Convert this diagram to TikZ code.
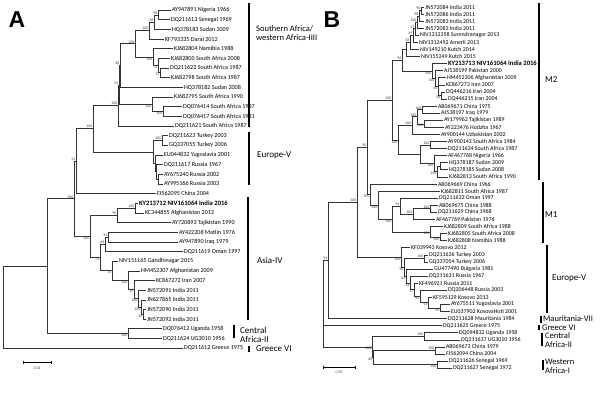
\documentclass[tikz,border=0pt]{standalone}
\usepackage{fontspec}
\setmainfont{Carlito}
\newfontfamily\headfont{Liberation Sans}
\usetikzlibrary{positioning}

\tikzset{
  branch/.style={draw=black!80, line width=0.6pt},
  taxA/.style={anchor=west, inner sep=0.8pt, font=\fontsize{6.1}{7}\selectfont},
  taxB/.style={anchor=west, inner sep=0.8pt, font=\fontsize{5.9}{6.5}\selectfont},
  bs/.style={font=\fontsize{3.9}{4}\selectfont, inner sep=0.4pt, text=black!75},
  bu/.style={label={[bs]above left:#1}},
  bd/.style={label={[bs]below left:#1}},
  grp/.style={line width=1.4pt},
  grplab/.style={anchor=west, inner sep=0pt, align=left, font=\fontsize{9}{9.5}\selectfont},
  grpsmall/.style={grplab, font=\fontsize{8.5}{9}\selectfont},
  panel/.style={font=\headfont\bfseries\fontsize{23}{23}\selectfont},
}
% leaf: style, name, position, parent, text
\newcommand{\leaf}[5]{\node[#1] (#2) at (#3) {#5}; \draw[branch] (#4) |- (#2.west);}
\newcommand{\newseq}[1]{\textbf{\fontsize{6.6}{7}\selectfont #1}}

\begin{document}
\begin{tikzpicture}[x=1pt, y=-1pt]
  \useasboundingbox (0,0) rectangle (600,393);

  \node[panel] (labA) at (17,20) {A};
  \node[panel] (labB) at (332,20) {B};

  % ---------------- Panel A: internal nodes
  \coordinate (rootA) at (3,307);
  \coordinate (nR) at (47,266.2);
  \coordinate[bu=100] (nP) at (74,198.7);
  \coordinate[bu=54] (nQ) at (76,161.1);
  \coordinate[bu=100] (nS) at (93,128.6);
  \coordinate[bu=100] (nT) at (118,105.4);
  \coordinate[bu=54] (nA54) at (119,84.9);
  \coordinate[bu=48] (nA48) at (120,65.5);
  \coordinate[bu=100] (nU) at (135,43.8);
  \coordinate[bu=100] (nA3) at (149,30.5);
  \coordinate[bu=58] (nA58) at (154,22.1);
  \coordinate[bu=98] (nA98) at (158,14.9);
  \coordinate[bd=100] (nA5) at (153,57.1);
  \coordinate[bd=72] (nA6) at (158,65.5);
  \coordinate[bd=75] (nA7) at (160,72.8);
  \coordinate[bd=100] (nA10) at (152,104.2);
  \coordinate[bd=100] (nA11) at (163,111.4);
  \coordinate (nE) at (153,151.9);
  \coordinate[bu=100] (nEt) at (162,140.4);
  \coordinate (nE2) at (155,163.4);
  \coordinate (nE3) at (156,171.8);
  \coordinate (nE4) at (158,179);
  \coordinate[bd=100] (nAs) at (90,236.4);
  \coordinate[bu=90] (n90) at (117,215.3);
  \coordinate[bu=100] (pA1) at (135,208);
  \coordinate[bd=72] (nY) at (100,257.4);
  \coordinate[bu=66] (n66) at (105,244.2);
  \coordinate[bu=94] (n94) at (108,237);
  \coordinate[bd=76] (n76) at (112,270.6);
  \coordinate[bd=100] (pl) at (128,280.2);
  \coordinate[bd=35] (pk) at (134,289.5);
  \coordinate[bd=100] (pj1) at (138,298.6);
  \coordinate[bd=100] (pj2) at (141,307);
  \coordinate[bd=46] (pj3) at (143,314.3);
  \coordinate[bd=100] (nCA) at (128,333.6);

  \foreach \c/\p in {nR/rootA, nP/nR, nCA/nR, nQ/nP, nAs/nP, nS/nQ, nT/nS, nE/nS,
      nA54/nT, nA48/nA54, nA10/nA54, nU/nA48, nA3/nU, nA5/nU, nA58/nA3, nA98/nA58,
      nA6/nA5, nA7/nA6, nA11/nA10, nEt/nE, nE2/nE, nE3/nE2, nE4/nE3,
      n90/nAs, nY/nAs, pA1/n90, n66/nY, n76/nY, n94/n66, pl/n76, pk/pl, pj1/pk,
      pj2/pj1, pj3/pj2}
    \draw[branch] (\p) |- (\c);

  % ---------------- Panel A: taxa
  \leaf{taxA}{a1}{171,10.0}{nA98}{AY947891 Nigeria 1966}
  \leaf{taxA}{a2}{170,19.7}{nA98}{DQ211613 Senegal 1969}
  \leaf{taxA}{a3}{171,29.3}{nA58}{HQ378183 Sudan 2009}
  \leaf{taxA}{a4}{164,39.0}{nA3}{KF793335 Daral 2012}
  \leaf{taxA}{a5}{173,48.6}{nA5}{KJ682804 Namibia 1988}
  \leaf{taxA}{a6}{170,58.3}{nA6}{KJ682800 South Africa 2008}
  \leaf{taxA}{a7}{169,68.0}{nA7}{DQ211622 South Africa 1987}
  \leaf{taxA}{a8}{170,77.6}{nA7}{KJ682798 South Africa 1987}
  \leaf{taxA}{a9}{183,87.3}{nA48}{HQ378182 Sudan 2008}
  \leaf{taxA}{a10}{173,96.9}{nA10}{KJ682795 South Africa 1990}
  \leaf{taxA}{a11}{182,106.6}{nA11}{DQ076414 South Africa 1987}
  \leaf{taxA}{a12}{182,116.3}{nA11}{DQ076417 South Africa 1981}
  \leaf{taxA}{a13}{174,125.9}{nT}{DQ211621 South Africa 1987}
  \leaf{taxA}{a14}{168,135.6}{nEt}{DQ211623 Turkey 2003}
  \leaf{taxA}{a15}{168,145.2}{nEt}{GQ337055 Turkey 2006}
  \leaf{taxA}{a16}{163,154.9}{nE2}{EU044832 Yugoslavia 2001}
  \leaf{taxA}{a17}{163,164.5}{nE3}{DQ211617 Russia 1967}
  \leaf{taxA}{a18}{163,174.2}{nE4}{AY675240 Russia 2002}
  \leaf{taxA}{a19}{163,183.9}{nE4}{AY995166 Russia 2003}
  \leaf{taxA}{a20}{156,193.5}{nQ}{FJ562095 China 2004}
  \leaf{taxA}{a21}{138,203.2}{pA1}{\newseq{KY213712 NIV161064 India 2016}}
  \leaf{taxA}{a22}{144,212.8}{pA1}{KC344855 Afghanistan 2012}
  \leaf{taxA}{a23}{171,222.5}{n90}{AY720893 Tajikistan 1990}
  \leaf{taxA}{a24}{178,232.1}{n94}{AY422208 Matlin 1976}
  \leaf{taxA}{a25}{178,241.8}{n94}{AY947890 Iraq 1979}
  \leaf{taxA}{a26}{183,251.5}{n66}{DQ211619 Oman 1997}
  \leaf{taxA}{a27}{118,261.1}{n76}{NIV151165 Gandhinagar 2015}
  \leaf{taxA}{a28}{140,270.8}{pl}{HM452307 Afghanistan 2009}
  \leaf{taxA}{a29}{155,280.4}{pk}{KC867272 Iran 2007}
  \leaf{taxA}{a30}{146,290.1}{pj1}{JN572091 India 2011}
  \leaf{taxA}{a31}{146,299.8}{pj2}{JN627865 India 2011}
  \leaf{taxA}{a32}{146,309.4}{pj3}{JN572090 India 2011}
  \leaf{taxA}{a33}{146,319.1}{pj3}{JN572092 India 2011}
  \leaf{taxA}{a34}{162,328.7}{nCA}{DQ076412 Uganda 1958}
  \leaf{taxA}{a35}{162,338.4}{nCA}{DQ211624 UG3010 1956}
  \leaf{taxA}{a36}{183,348.0}{rootA}{DQ211612 Greece 1975}

  % Panel A: genotype bars
  \draw[grp] (249,3) -- (249,127);
  \node[grpsmall] (gA1) at (256,33) {Southern Africa/\\western Africa-IIII};
  \draw[grp] (249,132) -- (249,185);
  \node[grplab] (gA2) at (257,155) {Europe-V};
  \draw[grp] (248,197) -- (248,320);
  \node[grplab] (gA3) at (257,260) {Asia-IV};
  \draw[grp] (234,325) -- (234,338);
  \node[grplab] (gA4) at (240,335) {Central\\Africa-II};
  \draw[grp] (249,346) -- (249,352);
  \node[grplab] (gA5) at (256,349) {Greece VI};

  % Panel A: scale
  \draw[line width=0.6pt] (23,362) -- (51,362);
  \draw[line width=0.6pt] (23,360.5) -- (23,363.5) (51,360.5) -- (51,363.5);
  \node[bs] (scA) at (37,368) {0.02};

  % ---------------- Panel B: internal nodes
  \coordinate (rootB) at (323,303.6);
  \coordinate[bu=94] (BN94) at (328,260.45);
  \coordinate[bu=100] (BK) at (357,202.4);
  \coordinate[bu=50] (BM) at (367,147.4);
  \coordinate[bu=100] (BM2) at (392,100.2);
  \coordinate[bu=96] (BZ) at (402,60.4);
  \coordinate (Bg) at (406,49.6);
  \coordinate[bu=56] (Bf) at (410,42.5);
  \coordinate[bu=49] (Be) at (413,35.5);
  \coordinate[bu=47] (Bd) at (415,28.7);
  \coordinate[bu=100] (Bc) at (417,22.0);
  \coordinate[bu=98] (Bb) at (419,15.9);
  \coordinate[bu=90] (Ba) at (421,10.6);
  \coordinate[bd=100] (BG9) at (432,71.2);
  \coordinate[bd=100] (Bh) at (435,78.7);
  \coordinate[bd=50] (Bi) at (438,86.7);
  \coordinate[bd=58] (Bj) at (441,95.5);
  \coordinate[bd=100] (BW) at (398,139.95);
  \coordinate[bu=100] (BC15) at (412,125.6);
  \coordinate[bu=100] (B1518) at (417,116.7);
  \coordinate[bu=100] (B1516) at (422,109.65);
  \coordinate[bd=100] (B1718) at (424,123.85);
  \coordinate (BS20) at (420,154.35);
  \coordinate[bu=100] (B2021) at (430,145.05);
  \coordinate[bd=100] (B22) at (434,163.65);
  \coordinate[bd=100] (B2325) at (437,171.6);
  \coordinate (B2324) at (440,166.3);
  \coordinate[bd=100] (BM1) at (370,194.5);
  \coordinate[bd=100] (BR27) at (378,205.05);
  \coordinate[bd=100] (BQ) at (392,219.0);
  \coordinate[bu=94] (B28) at (400,206.15);
  \coordinate[bu=100] (B31) at (413,214.1);
  \coordinate[bu=100] (B2930) at (430,208.75);
  \coordinate[bd=100] (B32) at (430,231.8);
  \coordinate[bd=100] (B3334) at (440,237.1);
  \coordinate[bd=100] (BEb) at (401,257.4);
  \coordinate[bd=96] (BEbb) at (404,267.15);
  \coordinate[bu=100] (B3637) at (424,258.35);
  \coordinate[bd=64] (BEc) at (406,275.95);
  \coordinate[bd=54] (BEd) at (410,282.9);
  \coordinate[bd=57] (BEe) at (414,289.75);
  \coordinate[bd=60] (BEf) at (420,296.4);
  \coordinate[bd=54] (BEg) at (428,302.6);
  \coordinate[bd=54] (B4344) at (440,307.9);
  \coordinate[bd=100] (BCW) at (372,346.85);
  \coordinate[bu=100] (BCA) at (424,336.25);
  \coordinate[bd=68] (BWC) at (373,357.45);
  \coordinate[bu=100] (BCh) at (435,350.35);
  \coordinate[bd=100] (BSe) at (437,364.55);

  \foreach \c/\p in {BN94/rootB, BCW/rootB, BK/BN94, BM/BK, BEb/BK, BM2/BM, BM1/BM,
      BZ/BM2, BW/BM2, Bg/BZ, BG9/BZ, Bf/Bg, Be/Bf, Bd/Be, Bc/Bd, Bb/Bc, Ba/Bb,
      Bh/BG9, Bi/Bh, Bj/Bi, BC15/BW, BS20/BW, B1518/BC15, B1516/B1518, B1718/B1518,
      B2021/BS20, B22/BS20, B2325/B22, B2324/B2325, BR27/BM1, BQ/BR27, B28/BQ,
      B32/BQ, B31/B28, B2930/B31, B3334/B32, BEbb/BEb, B3637/BEbb, BEc/BEbb,
      BEd/BEc, BEe/BEd, BEf/BEe, BEg/BEf, B4344/BEg, BCA/BCW, BWC/BCW, BCh/BWC,
      BSe/BWC}
    \draw[branch] (\p) |- (\c);

  % ---------------- Panel B: taxa
  \leaf{taxB}{b1}{424,7.0}{Ba}{JN572084 India 2011}
  \leaf{taxB}{b2}{424,14.1}{Ba}{JN572086 India 2011}
  \leaf{taxB}{b3}{424,21.2}{Bb}{JN572083 India 2011}
  \leaf{taxB}{b4}{424,28.2}{Bc}{JN572083 India 2011}
  \leaf{taxB}{b5}{419,35.3}{Bd}{NIV1312358 Surendranagar 2013}
  \leaf{taxB}{b6}{418,42.4}{Be}{NIV1312492 Amerli 2013}
  \leaf{taxB}{b7}{419,49.5}{Bf}{NIV149210 Kutch 2014}
  \leaf{taxB}{b8}{420,56.6}{Bg}{NIV155249 Kutch 2015}
  \leaf{taxB}{b9}{447,63.6}{BG9}{\newseq{KY213713 NIV161064 India 2016}}
  \leaf{taxB}{b10}{443,70.7}{Bh}{AJ538199 Pakistan 2000}
  \leaf{taxB}{b11}{446,77.8}{Bi}{HM452306 Afghanistan 2009}
  \leaf{taxB}{b12}{445,84.9}{Bi}{KC867273 Iran 2007}
  \leaf{taxB}{b13}{445,92.0}{Bj}{DQ446216 Iran 2004}
  \leaf{taxB}{b14}{447,99.0}{Bj}{DQ446215 Iran 2004}
  \leaf{taxB}{b15}{437,106.1}{B1516}{AB069671 China 1975}
  \leaf{taxB}{b16}{440,113.2}{B1516}{AJ538197 Iraq 1979}
  \leaf{taxB}{b17}{443,120.3}{B1718}{AY179962 Tajikistan 1989}
  \leaf{taxB}{b18}{444,127.4}{B1718}{AY223476 Hodzha 1967}
  \leaf{taxB}{b19}{440,134.4}{BC15}{AY900144 Uzbekistan 2002}
  \leaf{taxB}{b20}{447,141.5}{B2021}{AY900142 South Africa 1984}
  \leaf{taxB}{b21}{447,148.6}{B2021}{DQ211634 South Africa 1987}
  \leaf{taxB}{b22}{447,155.7}{B22}{AF467768 Nigeria 1966}
  \leaf{taxB}{b23}{448,162.8}{B2324}{HQ378187 Sudan 2009}
  \leaf{taxB}{b24}{448,169.8}{B2324}{HQ378185 Sudan 2008}
  \leaf{taxB}{b25}{448,176.9}{B2325}{KJ682813 South Africa 1990}
  \leaf{taxB}{b26}{437,184.0}{BM1}{AB069669 China 1966}
  \leaf{taxB}{b27}{440,191.1}{BR27}{KJ682811 South Africa 1987}
  \leaf{taxB}{b28}{438,198.2}{B28}{DQ211632 Oman 1997}
  \leaf{taxB}{b29}{438,205.2}{B2930}{AB069675 China 1988}
  \leaf{taxB}{b30}{437,212.3}{B2930}{DQ211629 China 1968}
  \leaf{taxB}{b31}{435,219.4}{B31}{AF467769 Pakistan 1976}
  \leaf{taxB}{b32}{443,226.5}{B32}{KJ682809 South Africa 1988}
  \leaf{taxB}{b33}{447,233.6}{B3334}{KJ682805 South Africa 2008}
  \leaf{taxB}{b34}{447,240.6}{B3334}{KJ682808 Namibia 1988}
  \leaf{taxB}{b35}{410,247.7}{BEb}{KF039943 Kosovo 2012}
  \leaf{taxB}{b36}{428,254.8}{B3637}{DQ211636 Turkey 2003}
  \leaf{taxB}{b37}{428,261.9}{B3637}{GQ337054 Turkey 2006}
  \leaf{taxB}{b38}{433,269.0}{BEc}{GU477490 Bulgaria 1981}
  \leaf{taxB}{b39}{428,276.0}{BEd}{DQ211631 Russia 1967}
  \leaf{taxB}{b40}{418,283.1}{BEe}{KF496921 Russia 2011}
  \leaf{taxB}{b41}{447,290.2}{BEf}{DQ206448 Russia 2003}
  \leaf{taxB}{b42}{432,297.3}{BEg}{KF595139 Kosovo 2013}
  \leaf{taxB}{b43}{450,304.4}{B4344}{AY675511 Yugoslavia 2001}
  \leaf{taxB}{b44}{450,311.4}{B4344}{EU037902 KosovaHoti 2001}
  \leaf{taxB}{b45}{447,318.5}{BN94}{DQ211628 Mauritania 1984}
  \leaf{taxB}{b46}{442,325.6}{rootB}{DQ211625 Greece 1975}
  \leaf{taxB}{b47}{458,332.7}{BCA}{DQ094832 Uganda 1958}
  \leaf{taxB}{b48}{460,339.8}{BCA}{DQ211637 UG3010 1956}
  \leaf{taxB}{b49}{445,346.8}{BCh}{AB069673 China 1979}
  \leaf{taxB}{b50}{445,353.9}{BCh}{FJ562094 China 2004}
  \leaf{taxB}{b51}{448,361.0}{BSe}{DQ211626 Senegal 1969}
  \leaf{taxB}{b52}{452,368.1}{BSe}{DQ211627 Senegal 1972}

  % Panel B: genotype bars
  \draw[grp] (539,3) -- (539,180);
  \node[grplab] (gB1) at (545,80) {M2};
  \draw[grp] (543,182) -- (543,243);
  \node[grplab] (gB2) at (545,215) {M1};
  \draw[grp] (547,245) -- (547,313);
  \node[grplab] (gB3) at (552,278) {Europe-V};
  \draw[grp] (541,316) -- (541,323);
  \node[grpsmall] (gB4) at (543,318.5) {Mauritania-VII};
  \draw[grp] (539,325) -- (539,330);
  \node[grpsmall] (gB5) at (542,327.5) {Greece VI};
  \draw[grp] (542,333) -- (542,346);
  \node[grpsmall, align=left] (gB6) at (545,340.5) {Central\\Africa-II};
  \draw[grp] (543,360) -- (543,370);
  \node[grpsmall] (gB7) at (545,366) {Western\\Africa-I};

  % Panel B: scale
  \draw[line width=0.6pt] (323,367) -- (355,367);
  \draw[line width=0.6pt] (323,365.5) -- (323,368.5) (355,365.5) -- (355,368.5);
  \node[bs] (scB) at (339,372) {0.05};
\end{tikzpicture}
\end{document}
